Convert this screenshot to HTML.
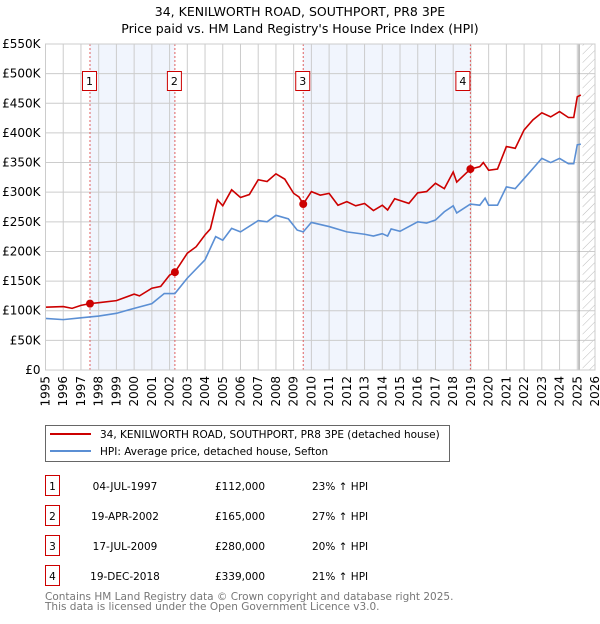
<!DOCTYPE html>
<html><head><meta charset="utf-8"><style>
body{margin:0;background:#fff;font-family:"DejaVu Sans","Liberation Sans",sans-serif;}
svg text{font-family:"DejaVu Sans","Liberation Sans",sans-serif;}
</style></head><body>
<svg id="chart" width="600" height="620" xmlns="http://www.w3.org/2000/svg">
<defs><pattern id="hatch" width="6" height="6" patternUnits="userSpaceOnUse" patternTransform="rotate(45)"><line x1="0" y1="0" x2="0" y2="6" stroke="#bbb" stroke-width="1"/></pattern></defs>
<text x="300" y="16" text-anchor="middle" font-size="12.5">34, KENILWORTH ROAD, SOUTHPORT, PR8 3PE</text>
<text x="300" y="33" text-anchor="middle" font-size="12.5">Price paid vs. HM Land Registry's House Price Index (HPI)</text>
<g id="plot"></g>
<g>
<rect x="45.5" y="425.5" width="404" height="36" fill="#fff" stroke="#666"/>
<line x1="50" y1="434" x2="91" y2="434" stroke="#cc0000" stroke-width="2"/>
<text x="100" y="438" font-size="10.5">34, KENILWORTH ROAD, SOUTHPORT, PR8 3PE (detached house)</text>
<line x1="50" y1="451" x2="91" y2="451" stroke="#5b8fd4" stroke-width="2"/>
<text x="100" y="455" font-size="10.5">HPI: Average price, detached house, Sefton</text>
</g>
<g id="table" font-size="10.5"></g>
<text x="45" y="600" font-size="10.5" fill="#777">Contains HM Land Registry data © Crown copyright and database right 2025.</text>
<text x="45" y="610" font-size="10.5" fill="#777">This data is licensed under the Open Government Licence v3.0.</text>
</svg>
<script>
const hpiYears=[1995,1996,1997,1998,1999,2000,2001,2001.7,2002.3,2003,2004,2004.6,2005,2005.5,2006,2007,2007.5,2008,2008.7,2009.2,2009.54,2010,2011,2012,2013,2013.5,2014,2014.3,2014.5,2015,2016,2016.5,2017,2017.5,2018,2018.2,2018.97,2019.5,2019.8,2020,2020.5,2021,2021.5,2022,2022.5,2023,2023.5,2024,2024.5,2024.8,2025,2025.2];
const hpiValues=[87,85,88,91,95.6,104,112,129,129,155,186,225,219,239,233,252,250,261,255,236,233,249,242,233,229,226,230,226,238,234,250,248,253,267,277,265,280,278,290,278,278,309,306,323,340,357,350,357,348,348,380,381];
const priceYears=[1995,1996,1996.5,1997,1997.5,1998,1999,2000,2000.3,2001,2001.5,2002,2002.3,2003,2003.5,2004,2004.3,2004.7,2005,2005.5,2006,2006.5,2007,2007.5,2008,2008.5,2009,2009.3,2009.54,2010,2010.5,2011,2011.5,2012,2012.5,2013,2013.5,2014,2014.3,2014.7,2015,2015.5,2016,2016.5,2017,2017.5,2018,2018.2,2018.97,2019.5,2019.7,2020,2020.5,2021,2021.5,2022,2022.5,2023,2023.5,2024,2024.5,2024.8,2025,2025.2];
const priceValues=[106,107,104,109,112,113.6,117,128,125,138,141,160,165,197,208,228,238,287,277,304,291,296,321,318,331,322,298,292,280,301,295,298,278,284,277,281,269,278,270,289,286,281,299,301,315,306,334,317,339,343,350,337,339,377,374,405,422,434,427,436,426,426,461,464];
const saleLabels=["1","2","3","4"];
const saleYears=[1997.51,2002.3,2009.54,2018.97];
const saleValues=[112,165,280,339];
const saleDates=["04-JUL-1997","19-APR-2002","17-JUL-2009","19-DEC-2018"];
const salePrices=["£112,000","£165,000","£280,000","£339,000"];
const saleHpi=["23% ↑ HPI","27% ↑ HPI","20% ↑ HPI","21% ↑ HPI"];
const yTicks=[0,50,100,150,200,250,300,350,400,450,500,550];
const yTickLabels=["£0","£50K","£100K","£150K","£200K","£250K","£300K","£350K","£400K","£450K","£500K","£550K"];
const xTicks=[1995,1996,1997,1998,1999,2000,2001,2002,2003,2004,2005,2006,2007,2008,2009,2010,2011,2012,2013,2014,2015,2016,2017,2018,2019,2020,2021,2022,2023,2024,2025,2026];

const L=45.5,R=595,T=44,B=370;
const X=y=>L+(y-1995)*(R-L)/31;
const Y=v=>B-v*(B-T)/550;
const NS="http://www.w3.org/2000/svg";
const plot=document.getElementById('plot');
function mk(tag,attrs,parent){const e=document.createElementNS(NS,tag);for(const k in attrs)e.setAttribute(k,attrs[k]);(parent||plot).appendChild(e);return e;}
for(let i=0;i<4;i+=2){
 const r=mk('rect',{x:X(saleYears[i]),y:T,width:X(saleYears[i+1])-X(saleYears[i]),height:B-T,fill:'#f1f5fd'});
 
 
}
const h=mk('rect',{x:X(2025.3),y:T,width:R-X(2025.3),height:B-T,fill:'url(#hatch)'});


yTicks.forEach((v,i)=>{
 const g=mk('line',{x1:L,x2:R,y1:Y(v),y2:Y(v),stroke:'#ccc','stroke-width':1});
 
 
 const t=mk('text',{x:L-5,y:Y(v)+4,'text-anchor':'end','font-size':12});
 t.textContent=yTickLabels[i];
 
 
});
xTicks.forEach(y=>{
 const g=mk('line',{x1:X(y),x2:X(y),y1:T,y2:B,stroke:'#ccc','stroke-width':1});
 
 
 const t=mk('text',{x:0,y:0,'text-anchor':'end','font-size':12,transform:`translate(${X(y)+4},${B+6}) rotate(-90)`});
 t.textContent=y;
 
 
});
const v=mk('line',{x1:X(2025.1),x2:X(2025.1),y1:T,y2:B,stroke:'#999','stroke-width':1.2});


saleYears.forEach((y,i)=>{
 const l=mk('line',{x1:X(y),x2:X(y),y1:T,y2:B,stroke:'#e06060','stroke-width':1,'stroke-dasharray':'2,2'});
 
 
 const r=mk('rect',{x:X(y)-(i==3?15:8)+0.5,y:71.5,width:14,height:19,fill:'#fff',stroke:'#cc0000'});
 
 
 const t=mk('text',{x:X(y)-(i==3?8:1)+0.5,y:85,'text-anchor':'middle','font-size':11});
 t.textContent=saleLabels[i];
 
 
});
const hp=mk('polyline',{points:hpiYears.map((y,i)=>X(y)+','+Y(hpiValues[i])).join(' '),fill:'none',stroke:'#5b8fd4','stroke-width':1.6});


const pp=mk('polyline',{points:priceYears.map((y,i)=>X(y)+','+Y(priceValues[i])).join(' '),fill:'none',stroke:'#cc0000','stroke-width':1.6});


saleYears.forEach((y,i)=>{
 const c=mk('circle',{cx:X(y),cy:Y(saleValues[i]),r:4,fill:'#cc0000'});
 
 
});
const fr=mk('rect',{x:L,y:T,width:R-L,height:B-T,fill:'none',stroke:'#ccc'});


const tb=document.getElementById('table');
saleLabels.forEach((s,i)=>{
 const yy=483+i*30;
 const r=mk('rect',{x:45.5,y:yy-7.5,width:14,height:20,fill:'#fff',stroke:'#cc0000'},tb);
 
 
 const cells=[[52.5,s,'middle'],[125,saleDates[i],'middle'],[240,salePrices[i],'middle'],[312,saleHpi[i],'start']];
 cells.forEach(c=>{
  const t=mk('text',{x:c[0],y:yy+7,'text-anchor':c[2],'font-size':10.5},tb);
  t.textContent=c[1];
  
  
 });
});
</script>
</body></html>
